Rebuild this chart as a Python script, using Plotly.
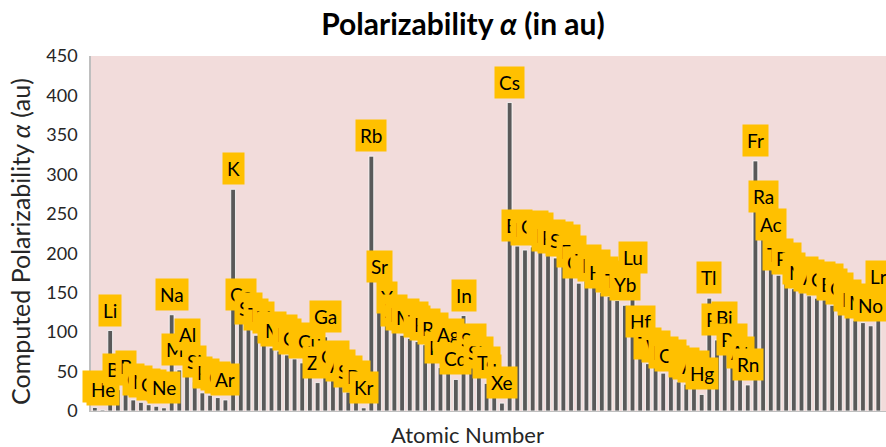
import plotly.graph_objects as go

symbols = ["H","He","Li","Be","B","C","N","O","F","Ne",
           "Na","Mg","Al","Si","P","S","Cl","Ar",
           "K","Ca","Sc","Ti","V","Cr","Mn","Fe","Co","Ni","Cu","Zn","Ga","Ge","As","Se","Br","Kr",
           "Rb","Sr","Y","Zr","Nb","Mo","Tc","Ru","Rh","Pd","Ag","Cd","In","Sn","Sb","Te","I","Xe",
           "Cs","Ba","La","Ce","Pr","Nd","Pm","Sm","Eu","Gd","Tb","Dy","Ho","Er","Tm","Yb","Lu",
           "Hf","Ta","W","Re","Os","Ir","Pt","Au","Hg","Tl","Pb","Bi","Po","At","Rn",
           "Fr","Ra","Ac","Th","Pa","U","Np","Pu","Am","Cm","Bk","Cf","Es","Fm","Md","No","Lr"]

alpha = [4.5, 1.4, 102, 27, 30, 14, 11, 8, 6, 4,
         122, 52, 71, 37, 23, 20, 17, 14,
         281, 122, 104, 96, 92, 80, 76, 71, 66, 61, 62, 36, 94, 43, 32, 24, 18, 4,
         323, 157, 118, 101, 96, 92, 88, 84, 78, 55, 71, 40, 121, 65, 48, 35, 25, 10,
         391, 209, 204, 208, 205, 197, 194, 190, 176, 162, 165, 158, 150, 145, 140, 134, 168,
         87, 60, 56, 48, 44, 37, 34, 30, 21, 143, 90, 93, 65, 48, 33,
         317, 246, 210, 172, 167, 155, 150, 146, 143, 141, 134, 129, 120, 115, 112, 108, 145]

atomic_number = list(range(1, len(symbols) + 1))

FONT = "Lato"
L, T, B = 91, 56, 36
PW = 886 - L
PH = 447 - T - B

fig = go.Figure()
fig.add_trace(go.Bar(
    x=atomic_number, y=alpha,
    marker=dict(color="#595959", line=dict(color="#FFFFFF", width=0.8)),
    width=0.62,
    hoverinfo="x+y",
))

for n, s, v in zip(atomic_number, symbols, alpha):
    fig.add_annotation(
        x=n, y=v, xref="x", yref="y", text=s, showarrow=False,
        yanchor="bottom", xanchor="center", yshift=4,
        bgcolor="#FFC000", borderpad=4,
        font=dict(family=FONT, size=19, color="#000000"),
    )

fig.add_annotation(
    x=(467 - L) / PW, y=(411 - 435) / PH, xref="paper", yref="paper",
    text="Atomic Number", showarrow=False, xanchor="center", yanchor="middle",
    font=dict(family=FONT, size=22, color="#262626"),
)
fig.add_annotation(
    x=(20 - L) / PW, y=(411 - 242) / PH, xref="paper", yref="paper",
    text="Computed Polarizability <i>α</i> (au)", showarrow=False,
    textangle=-90, xanchor="center", yanchor="middle",
    font=dict(family=FONT, size=25, color="#262626"),
)

fig.update_layout(
    width=886, height=447,
    margin=dict(l=L, r=0, t=T, b=B),
    paper_bgcolor="#FFFFFF",
    plot_bgcolor="#F2DCDB",
    title=dict(text="<b>Polarizability <i>α</i> (in au)</b>",
               x=(463 - L) / PW, xref="paper", xanchor="center",
               y=1 - 24 / 447, yref="container", yanchor="middle",
               font=dict(family=FONT, size=30, color="#000000")),
    showlegend=False,
    bargap=0.35,
)
fig.update_xaxes(range=[0.5, 104.0], showticklabels=False, ticks="",
                 showgrid=False, zeroline=False, showline=True,
                 linecolor="#BFBFBF", linewidth=1)
fig.update_yaxes(range=[0, 450], dtick=50, showgrid=False, zeroline=False,
                 showline=True, linecolor="#BFBFBF", linewidth=1.5,
                 ticks="", ticklabelstandoff=8,
                 tickfont=dict(family=FONT, size=18, color="#262626"))

fig.write_html("out.html")
